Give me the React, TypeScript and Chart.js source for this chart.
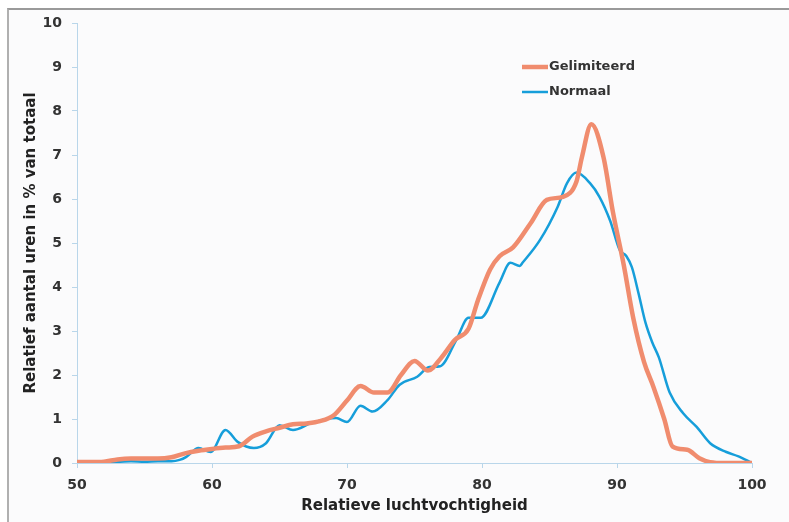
import React, { useEffect, useRef } from "react";
import { Chart, registerables } from "chart.js";

Chart.register(...registerables);

const seriesLabels = ["Gelimiteerd", "Normaal"];

const gelimiteerdX = [50, 51, 52, 53, 54, 55, 56, 57, 58, 59, 60, 61, 62, 63, 64, 65, 66, 67, 68, 69, 70, 71, 72, 73, 74, 75, 76, 77, 78, 79, 79.7, 80.6, 81.3, 82.3, 83.6, 84.8, 86, 87, 87.4, 88.1, 89, 89.7, 90.5, 91.2, 92, 92.7, 93.5, 94.1, 95.2, 96.1, 96.9, 98, 99, 100];
const gelimiteerdY = [0.02, 0.02, 0.03, 0.08, 0.1, 0.1, 0.1, 0.13, 0.22, 0.28, 0.32, 0.35, 0.38, 0.6, 0.72, 0.8, 0.88, 0.9, 0.95, 1.08, 1.42, 1.75, 1.6, 1.6, 2.0, 2.32, 2.1, 2.4, 2.8, 3.05, 3.7, 4.4, 4.7, 4.9, 5.45, 5.98, 6.05, 6.4, 6.95, 7.7, 6.95, 5.7, 4.5, 3.3, 2.3, 1.73, 1.0, 0.38, 0.3, 0.11, 0.02, 0.0, 0.0, 0.0];

const normaalX = [50, 51, 52, 53, 54, 55, 56, 57, 57.6, 58.1, 59, 59.9, 61, 61.9, 63.1, 64, 65, 66, 67.3, 68.5, 69.2, 70, 71, 71.9, 73, 73.9, 75.2, 76.1, 76.9, 78.1, 79, 79.9, 81.3, 82.1, 82.8, 83, 84.3, 85.6, 86.3, 87, 88, 88.7, 89.5, 90.2, 90.7, 91.1, 91.6, 92.1, 92.6, 93.1, 93.9, 94.9, 95.9, 96.9, 98.1, 99, 100];
const normaalY = [0.02, 0.02, 0.03, 0.03, 0.04, 0.03, 0.04, 0.04, 0.07, 0.14, 0.34, 0.25, 0.75, 0.48, 0.34, 0.45, 0.86, 0.75, 0.9, 1.0, 1.02, 0.93, 1.3, 1.17, 1.43, 1.78, 1.96, 2.18, 2.2, 2.8, 3.3, 3.3, 4.1, 4.55, 4.48, 4.55, 5.07, 5.82, 6.36, 6.6, 6.36, 6.05, 5.5, 4.84, 4.7, 4.45, 3.85, 3.2, 2.75, 2.4, 1.6, 1.13, 0.82, 0.45, 0.25, 0.15, 0.0];

const xTicks = [50, 60, 70, 80, 90, 100];
const yTicks = [0, 1, 2, 3, 4, 5, 6, 7, 8, 9, 10];

const xTitle = "Relatieve luchtvochtigheid";
const yTitle = "Relatief aantal uren in % van totaal";

const colors = ["rgb(240,140,110)", "rgb(22,158,218)"];

export default function App() {
  const ref = useRef<HTMLCanvasElement | null>(null);

  useEffect(() => {
    if (!ref.current) return;
    const toPts = (xs: number[], ys: number[]) => xs.map((x, i) => ({ x, y: ys[i] }));

    const legendPlugin = {
      id: "customLegend",
      afterDraw(chart: any) {
        const ctx = chart.ctx;
        ctx.save();
        const items = [
          { label: seriesLabels[0], color: colors[0], width: 4.5, y: 67 },
          { label: seriesLabels[1], color: colors[1], width: 2.5, y: 92 },
        ];
        items.forEach((it) => {
          ctx.strokeStyle = it.color;
          ctx.lineWidth = it.width;
          ctx.beginPath();
          ctx.moveTo(522, it.y);
          ctx.lineTo(548, it.y);
          ctx.stroke();
          ctx.fillStyle = "#333";
          ctx.font = "bold 13px 'DejaVu Sans'";
          ctx.textBaseline = "middle";
          ctx.textAlign = "left";
          ctx.fillText(it.label, 549, it.y);
        });
        ctx.restore();
      },
    };

    const chart = new Chart(ref.current, {
      type: "line",
      data: {
        datasets: [
          {
            label: seriesLabels[0],
            data: toPts(gelimiteerdX, gelimiteerdY),
            borderColor: colors[0],
            backgroundColor: colors[0],
            borderWidth: 4.5,
            pointRadius: 0,
            cubicInterpolationMode: "monotone",
          },
          {
            label: seriesLabels[1],
            data: toPts(normaalX, normaalY),
            borderColor: colors[1],
            backgroundColor: colors[1],
            borderWidth: 2.5,
            pointRadius: 0,
            cubicInterpolationMode: "monotone",
          },
        ],
      },
      options: {
        responsive: false,
        animation: false,
        layout: { padding: { left: 22, top: 23, right: 37, bottom: 6 } },
        plugins: {
          legend: { display: false },
          tooltip: { enabled: false },
        },
        scales: {
          x: {
            type: "linear",
            min: 50,
            max: 100,
            afterBuildTicks: (s: any) => {
              s.ticks = xTicks.map((v) => ({ value: v }));
            },
            afterFit: (s: any) => {
              s.height = 53;
            },
            grid: { drawOnChartArea: false, drawTicks: true, tickLength: 5, color: "#b9d6ea" },
            border: { color: "#b9d6ea", width: 1 },
            ticks: {
              color: "#333",
              font: { family: "'DejaVu Sans'", size: 14, weight: "bold" },
              padding: 9,
              maxRotation: 0,
            },
            title: {
              display: true,
              text: xTitle,
              color: "#222",
              font: { family: "'DejaVu Sans'", size: 15, weight: "bold" },
              padding: { top: 0, bottom: 1 },
            },
          },
          y: {
            min: 0,
            max: 10,
            afterBuildTicks: (s: any) => {
              s.ticks = yTicks.map((v) => ({ value: v }));
            },
            afterFit: (s: any) => {
              s.width = 55;
            },
            grid: { drawOnChartArea: false, drawTicks: true, tickLength: 5, color: "#b9d6ea" },
            border: { color: "#b9d6ea", width: 1 },
            ticks: {
              color: "#333",
              font: { family: "'DejaVu Sans'", size: 14, weight: "bold" },
              padding: 10,
            },
            title: {
              display: true,
              text: yTitle,
              color: "#222",
              font: { family: "'DejaVu Sans'", size: 15, weight: "bold" },
              padding: { top: 0, bottom: 0 },
            },
          },
        },
      },
      plugins: [legendPlugin],
    } as any);

    return () => chart.destroy();
  }, []);

  return (
    <div style={{ position: "absolute", left: 0, top: 0, width: 789, height: 522, background: "#fff", overflow: "hidden" }}>
      <div
        style={{
          position: "absolute",
          left: 7,
          top: 8,
          width: 790,
          height: 520,
          borderTop: "2px solid #9a9a9a",
          borderLeft: "2px solid #b0b0b0",
          background: "#fbfbfc",
        }}
      />
      <canvas ref={ref} width={789} height={522} style={{ position: "absolute", left: 0, top: 0 }} />
    </div>
  );
}
